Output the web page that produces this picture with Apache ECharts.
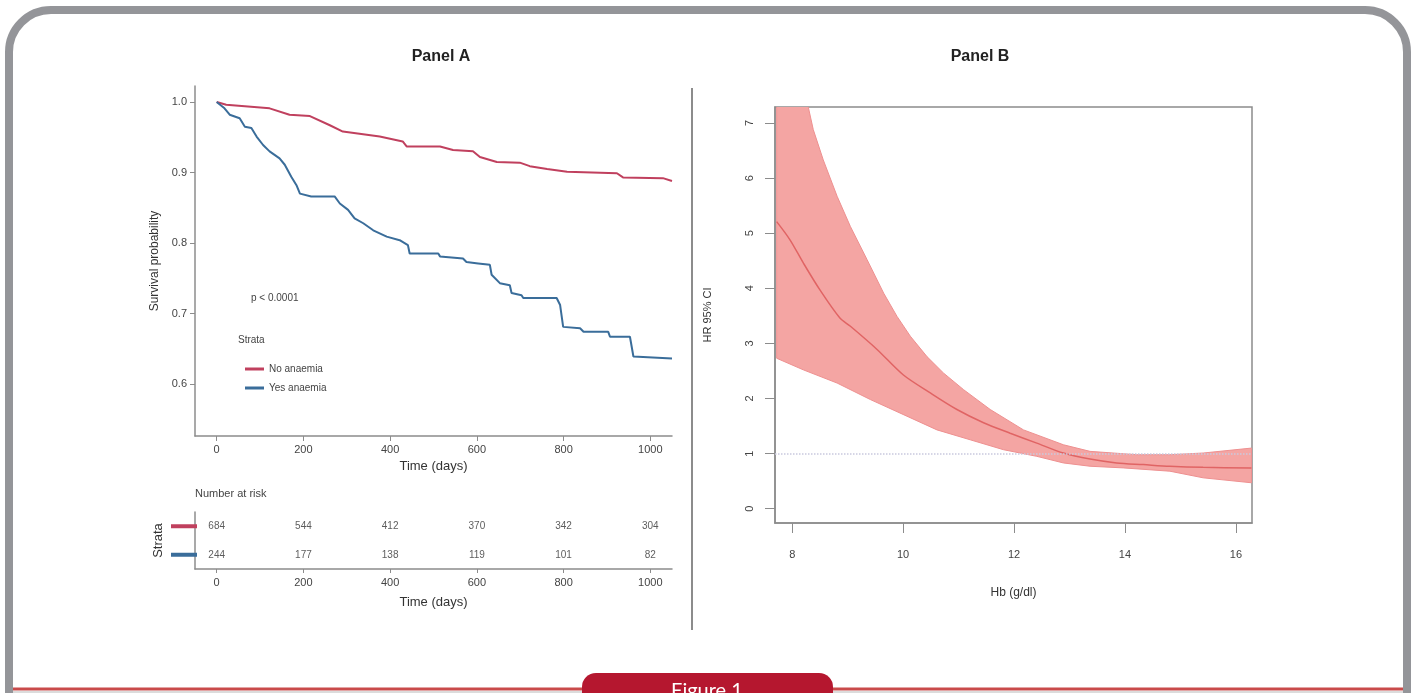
<!DOCTYPE html>
<html>
<head>
<meta charset="utf-8">
<title>Figure 1</title>
<script src="https://cdn.jsdelivr.net/npm/echarts@6/dist/echarts.min.js"></script>
<style type="text/css">
html,body{margin:0;padding:0;background:#fff;}
#container{width:1416px;height:693px;}
</style>
</head>
<body>
<div id="container"></div>
<script>
// Panel A - survival curves (days, probability)
var noAnaemiaTime = [0, 22, 122, 168, 215, 261, 291, 376, 429, 438, 515, 545, 591, 607, 646, 699, 722, 762, 808, 923, 937, 1029, 1050];
var noAnaemiaSurv = [1.0, 0.996, 0.991, 0.982, 0.980, 0.967, 0.958, 0.951, 0.944, 0.937, 0.937, 0.932, 0.930, 0.922, 0.915, 0.914, 0.909, 0.905, 0.901, 0.899, 0.893, 0.892, 0.888];

var yesAnaemiaTime = [0, 18, 30, 53, 65, 80, 92, 107, 122, 145, 157, 172, 184, 192, 218, 272, 284, 303, 318, 338,
  361, 392, 422, 441, 445, 511, 515, 568, 576, 603, 630, 634, 653, 676, 680, 703, 707, 784, 792, 799,
  838, 846, 903, 907, 953, 961, 1050];
var yesAnaemiaSurv = [1.0, 0.991, 0.982, 0.977, 0.965, 0.963, 0.951, 0.939, 0.930, 0.920, 0.911, 0.894, 0.882, 0.870, 0.866, 0.866, 0.856, 0.847, 0.835, 0.828,
  0.818, 0.809, 0.804, 0.797, 0.785, 0.785, 0.781, 0.778, 0.773, 0.771, 0.769, 0.755, 0.743, 0.740, 0.729, 0.726, 0.722, 0.722, 0.712, 0.681,
  0.679, 0.674, 0.674, 0.667, 0.667, 0.639, 0.636];

// number at risk
var riskTimes = [0, 200, 400, 600, 800, 1000];
var riskNo = [684, 544, 412, 370, 342, 304];
var riskYes = [244, 177, 138, 119, 101, 82];
var timeTicks = [0, 200, 400, 600, 800, 1000];
var survTicks = [0.6, 0.7, 0.8, 0.9, 1.0];

// Panel B - HR by Hb
var hrHb = [7.72, 7.96, 8.20, 8.50, 8.86, 9.05, 9.53, 10.0, 10.49, 10.97, 11.45, 11.93, 12.41, 12.89, 13.37, 13.85, 14.33, 14.81, 15.41, 16.28];
var hrVal = [5.21, 4.88, 4.46, 3.97, 3.46, 3.31, 2.89, 2.43, 2.10, 1.80, 1.56, 1.37, 1.19, 1.01, 0.90, 0.83, 0.80, 0.77, 0.75, 0.74];
var upperHb = [7.72, 7.96, 8.29, 8.38, 8.56, 8.81, 9.05, 9.35, 9.65, 9.89, 10.13, 10.43, 10.73, 11.09, 11.57, 12.17, 12.89, 13.37, 14.21, 14.81, 15.41, 16.28];
var upperVal = [10.4, 9.0, 7.29, 6.88, 6.33, 5.67, 5.12, 4.52, 3.91, 3.49, 3.13, 2.76, 2.46, 2.16, 1.80, 1.43, 1.16, 1.04, 0.98, 0.98, 1.01, 1.10];
var lowerHb = [7.72, 8.20, 8.81, 9.41, 10.0, 10.61, 11.21, 11.81, 12.41, 12.89, 13.37, 13.97, 14.81, 15.41, 16.28];
var lowerVal = [2.73, 2.52, 2.28, 1.98, 1.71, 1.43, 1.25, 1.07, 0.95, 0.83, 0.77, 0.74, 0.68, 0.56, 0.47];
var hbTicks = [8, 10, 12, 14, 16];
var hrTicks = [0, 1, 2, 3, 4, 5, 6, 7];

var redColor = '#c0405e';
var blueColor = '#3a6d9a';
var axisColor = '#8c8c8c';
var textColor = '#444';
var font = '"Liberation Sans", Arial, sans-serif';

function zip(a, b) {
	var out = [];
	for (var i = 0; i < a.length; i++) {
		out.push([a[i], b[i]]);
	}
	return out;
}

function plain(v) {
	return String(v);
}

var riskData = [];
for (var i = 0; i < riskTimes.length; i++) {
	riskData.push([riskTimes[i], 'No anaemia', riskNo[i]]);
	riskData.push([riskTimes[i], 'Yes anaemia', riskYes[i]]);
}

// CI band: upper edge then lower edge backwards
function renderBand(params, api) {
	var pts = [];
	for (var i = 0; i < upperHb.length; i++) {
		pts.push(api.coord([upperHb[i], upperVal[i]]));
	}
	for (var j = lowerHb.length - 1; j >= 0; j--) {
		pts.push(api.coord([lowerHb[j], lowerVal[j]]));
	}
	return {
		type: 'polygon',
		shape: {points: pts},
		style: {fill: '#f4a5a3', stroke: '#ee9090', lineWidth: 1}
	};
}

function txt(x, y, s, size, weight, align, color) {
	return {
		type: 'text', x: x, y: y,
		style: {
			text: s, fontSize: size, fontWeight: weight || 'normal', fontFamily: font,
			fill: color || textColor,
			align: align || 'left', verticalAlign: 'middle',
			textAlign: align || 'left', textVerticalAlign: 'middle'
		}
	};
}

var myChart = echarts.init(document.getElementById('container'));

var option = {
	animation: false,
	backgroundColor: '#fff',
	textStyle: {fontFamily: font},
	graphic: [
		// outer frame
		{type: 'rect', shape: {x: 9, y: 10, width: 1398, height: 760, r: 42},
			style: {fill: 'none', stroke: '#949599', lineWidth: 8}},
		{type: 'line', shape: {x1: 13, y1: 689, x2: 1403, y2: 689},
			style: {stroke: '#c94a4a', lineWidth: 3}},
		{type: 'line', shape: {x1: 13, y1: 692, x2: 1403, y2: 692},
			style: {stroke: '#dcdcdc', lineWidth: 2}},
		{type: 'rect', shape: {x: 582, y: 673, width: 251, height: 40, r: 14},
			style: {fill: '#b5172f'}},
		{type: 'text', x: 707, y: 681, style: {text: 'Figure 1', fontSize: 20, fontFamily: 'Lato, "Noto Sans", sans-serif',
			fill: '#fff', align: 'center', verticalAlign: 'top', textAlign: 'center', textVerticalAlign: 'top'}},
		// separator
		{type: 'line', shape: {x1: 692, y1: 88, x2: 692, y2: 630}, style: {stroke: '#8c8c8c', lineWidth: 2}},
		txt(441, 57, 'Panel A', 16, 'bold', 'center', '#222'),
		txt(980, 57, 'Panel B', 16, 'bold', 'center', '#222'),
		txt(251, 298, 'p < 0.0001', 10),
		txt(238, 340, 'Strata', 10),
		txt(195, 494, 'Number at risk', 11)
	],
	legend: {
		data: ['No anaemia', 'Yes anaemia'],
		orient: 'vertical',
		left: 240,
		top: 358,
		icon: 'rect',
		itemWidth: 19,
		itemHeight: 3,
		itemGap: 7,
		textStyle: {fontSize: 10, color: textColor, lineHeight: 12, fontFamily: font}
	},
	grid: [
		{left: 195, top: 86, width: 477, height: 350},
		{left: 195, top: 512, width: 477, height: 57},
		{left: 775, top: 107, width: 477, height: 416, show: true, borderColor: axisColor, borderWidth: 1.5}
	],
	xAxis: [
		{
			gridIndex: 0, type: 'value', min: -50, max: 1050,
			axisLine: {show: true, onZero: false, lineStyle: {color: axisColor, width: 1.5}},
			axisTick: {show: true, customValues: timeTicks, length: 5, lineStyle: {color: axisColor}},
			axisLabel: {customValues: timeTicks, fontSize: 11, color: textColor, margin: 8, formatter: plain},
			splitLine: {show: false},
			name: 'Time (days)', nameLocation: 'middle', nameGap: 24,
			nameTextStyle: {fontSize: 13, color: '#333'}
		},
		{
			gridIndex: 1, type: 'value', min: -50, max: 1050,
			axisLine: {show: true, onZero: false, lineStyle: {color: axisColor, width: 1.5}},
			axisTick: {show: true, customValues: timeTicks, length: 4, lineStyle: {color: axisColor}},
			axisLabel: {customValues: timeTicks, fontSize: 11, color: textColor, margin: 8, formatter: plain},
			splitLine: {show: false},
			name: 'Time (days)', nameLocation: 'middle', nameGap: 27,
			nameTextStyle: {fontSize: 13, color: '#333'}
		},
		{
			gridIndex: 2, type: 'value', min: 7.69, max: 16.29,
			axisLine: {show: true, onZero: false, lineStyle: {color: axisColor, width: 1.5}},
			axisTick: {show: true, customValues: hbTicks, length: 10, lineStyle: {color: axisColor}},
			axisLabel: {customValues: hbTicks, fontSize: 11, color: textColor, margin: 26, formatter: plain},
			splitLine: {show: false},
			name: 'Hb (g/dl)', nameLocation: 'middle', nameGap: 64,
			nameTextStyle: {fontSize: 12, color: '#333'}
		}
	],
	yAxis: [
		{
			gridIndex: 0, type: 'value', min: 0.5262, max: 1.0227,
			axisLine: {show: true, onZero: false, lineStyle: {color: axisColor, width: 1.5}},
			axisTick: {show: true, customValues: survTicks, length: 5, lineStyle: {color: axisColor}},
			axisLabel: {customValues: survTicks, fontSize: 11, color: textColor, margin: 8,
				formatter: function (v) { return v.toFixed(1); }},
			splitLine: {show: false},
			name: 'Survival probability', nameLocation: 'middle', nameGap: 34, nameRotate: 90,
			nameTextStyle: {fontSize: 12, color: '#333'}
		},
		{
			gridIndex: 1, type: 'category', data: ['Yes anaemia', 'No anaemia'],
			axisLine: {show: true, onZero: false, lineStyle: {color: axisColor, width: 1.5}},
			axisTick: {show: false},
			axisLabel: {
				margin: -2,
				formatter: function (v) { return v === 'No anaemia' ? '{r| }' : '{b| }'; },
				rich: {
					r: {backgroundColor: redColor, width: 26, height: 4, fontSize: 4, lineHeight: 4},
					b: {backgroundColor: blueColor, width: 26, height: 4, fontSize: 4, lineHeight: 4}
				}
			},
			name: 'Strata', nameLocation: 'middle', nameGap: 30, nameRotate: 90,
			nameTextStyle: {fontSize: 13, color: '#333'}
		},
		{
			gridIndex: 2, type: 'value', min: -0.26, max: 7.29,
			axisLine: {show: true, onZero: false, lineStyle: {color: axisColor, width: 1.5}},
			axisTick: {show: true, customValues: hrTicks, length: 10, lineStyle: {color: axisColor}},
			axisLabel: {customValues: hrTicks, fontSize: 11, color: textColor, margin: 20, rotate: 90, formatter: plain},
			splitLine: {show: false},
			name: 'HR 95% CI', nameLocation: 'middle', nameGap: 62, nameRotate: 90,
			nameTextStyle: {fontSize: 11, color: '#333'}
		}
	],
	series: [
		{
			name: 'No anaemia', type: 'line', xAxisIndex: 0, yAxisIndex: 0,
			data: zip(noAnaemiaTime, noAnaemiaSurv), showSymbol: false,
			itemStyle: {color: redColor}, lineStyle: {color: redColor, width: 2}
		},
		{
			name: 'Yes anaemia', type: 'line', xAxisIndex: 0, yAxisIndex: 0,
			data: zip(yesAnaemiaTime, yesAnaemiaSurv), showSymbol: false,
			itemStyle: {color: blueColor}, lineStyle: {color: blueColor, width: 2}
		},
		{
			name: 'risk', type: 'scatter', xAxisIndex: 1, yAxisIndex: 1,
			data: riskData, symbolSize: 1, itemStyle: {color: 'transparent'},
			label: {show: true, position: 'inside', fontSize: 10, color: '#333',
				formatter: function (p) { return p.data[2]; }}
		},
		{
			name: 'CI', type: 'custom', xAxisIndex: 2, yAxisIndex: 2,
			data: [[lowerHb[0], lowerVal[0]]], renderItem: renderBand, clip: true, silent: true
		},
		{
			name: 'HR', type: 'line', xAxisIndex: 2, yAxisIndex: 2,
			data: zip(hrHb, hrVal), showSymbol: false, smooth: 0.3,
			lineStyle: {color: '#e06464', width: 1.5},
			markLine: {
				silent: true, symbol: 'none', label: {show: false},
				lineStyle: {color: '#c9c9de', type: 'dotted', width: 1.5},
				data: [{yAxis: 1}]
			}
		}
	]
};
myChart.setOption(option);
</script>
</body>
</html>
